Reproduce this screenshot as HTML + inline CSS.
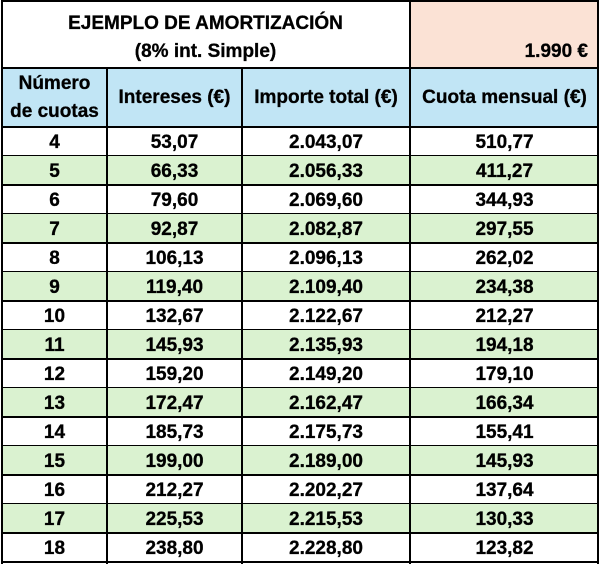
<!DOCTYPE html><html><head><meta charset="utf-8"><style>
body{margin:0;width:601px;height:566px;background:#fff;position:relative;overflow:hidden;font-family:"Liberation Sans",sans-serif;font-weight:bold;color:#000}
div{position:absolute;box-sizing:border-box}
.h{height:2px;background:#000;left:2px;width:597px}
.v{width:2px;background:#000}
.t{text-align:center;font-size:19px;line-height:20px;font-weight:bold;-webkit-text-stroke:0.3px #000}
</style></head><body>
<div style="left:410px;top:1px;width:189px;height:67px;background:#fbe2d5"></div>
<div style="left:2px;top:68px;width:597px;height:59px;background:#c1e5f5"></div>
<script>
var d=[[4,"53,07","2.043,07","510,77"],[5,"66,33","2.056,33","411,27"],[6,"79,60","2.069,60","344,93"],[7,"92,87","2.082,87","297,55"],[8,"106,13","2.096,13","262,02"],[9,"119,40","2.109,40","234,38"],[10,"132,67","2.122,67","212,27"],[11,"145,93","2.135,93","194,18"],[12,"159,20","2.149,20","179,10"],[13,"172,47","2.162,47","166,34"],[14,"185,73","2.175,73","155,41"],[15,"199,00","2.189,00","145,93"],[16,"212,27","2.202,27","137,64"],[17,"225,53","2.215,53","130,33"],[18,"238,80","2.228,80","123,82"]];
var xs=[2,107,242,410,599],h="";
d.forEach(function(r,i){var y=127+29*i;
if(i%2)h+='<div style="left:2px;top:'+y+'px;width:597px;height:29px;background:#daf2d0"></div>';
for(var c=0;c<4;c++)h+='<div class="t" style="left:'+xs[c]+'px;width:'+(xs[c+1]-xs[c])+'px;top:'+(y+6)+'px">'+r[c]+'</div>';
h+='<div class="h" style="top:'+(y+28)+'px"></div>';});
document.write(h);
</script>
<div class="h" style="top:0px"></div>
<div class="h" style="top:67px"></div>
<div class="h" style="top:126px"></div>
<div class="v" style="left:1px;top:0;height:564px"></div>
<div class="v" style="left:106px;top:67px;height:497px"></div>
<div class="v" style="left:241px;top:67px;height:497px"></div>
<div class="v" style="left:409px;top:0;height:564px"></div>
<div class="v" style="left:597px;top:0;height:564px"></div>
<div class="t" style="left:2px;width:407px;top:14px">EJEMPLO DE AMORTIZACIÓN</div>
<div class="t" style="left:2px;width:407px;top:42px">(8% int. Simple)</div>
<div class="t" style="left:410px;width:178px;top:42px;text-align:right">1.990 €</div>
<div class="t" style="left:2px;width:105px;top:70px;line-height:28px">Número<br>de cuotas</div>
<div class="t" style="left:107px;width:135px;top:88px">Intereses (€)</div>
<div class="t" style="left:242px;width:168px;top:88px">Importe total (€)</div>
<div class="t" style="left:410px;width:189px;top:88px">Cuota mensual (€)</div>
</body></html>
